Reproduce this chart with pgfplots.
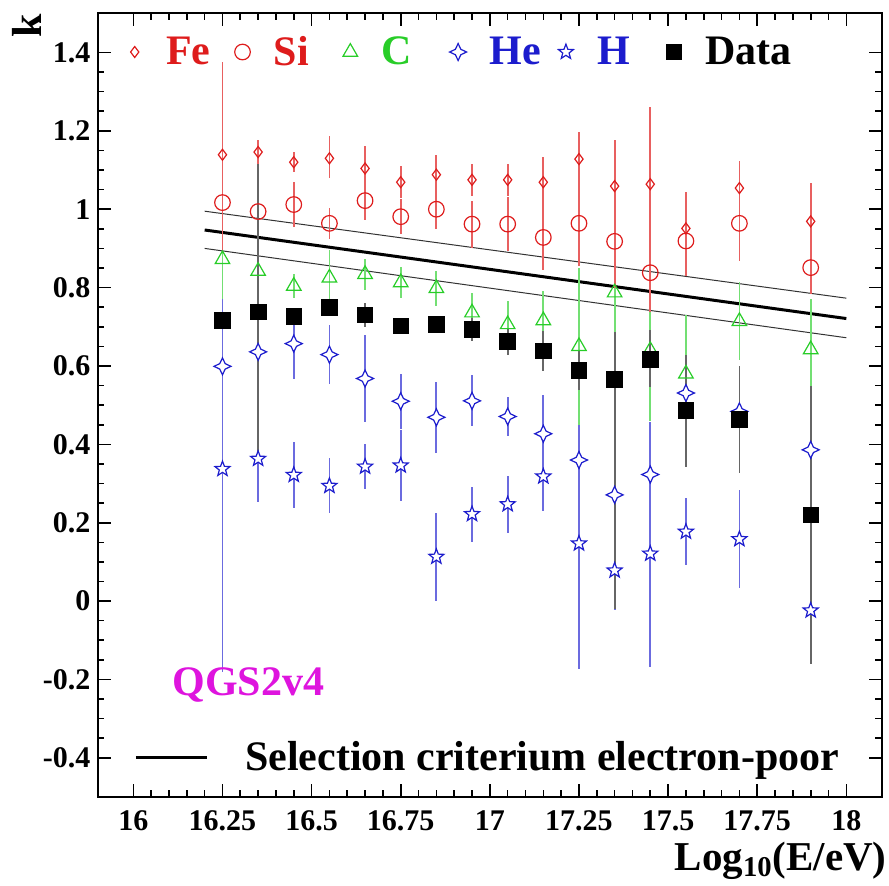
\documentclass[border=0pt]{standalone}
\usepackage{fontspec}
\setmainfont{Liberation Serif}
\usepackage{pgfplots}
\usepackage{pgfplotstable}
\pgfplotsset{compat=1.18}

\definecolor{rred}{RGB}{222,28,28}
\definecolor{rgreen}{RGB}{40,205,40}
\definecolor{rblue}{RGB}{28,28,205}
\definecolor{rmag}{RGB}{222,20,222}

% open 4-point star (He) and open 5-point star (H)
\pgfdeclareplotmark{fourstar}{%
  \pgfpathmoveto{\pgfqpoint{0pt}{\pgfplotmarksize}}%
  \pgfpathlineto{\pgfqpoint{0.32\pgfplotmarksize}{0.32\pgfplotmarksize}}%
  \pgfpathlineto{\pgfqpoint{\pgfplotmarksize}{0pt}}%
  \pgfpathlineto{\pgfqpoint{0.32\pgfplotmarksize}{-0.32\pgfplotmarksize}}%
  \pgfpathlineto{\pgfqpoint{0pt}{-\pgfplotmarksize}}%
  \pgfpathlineto{\pgfqpoint{-0.32\pgfplotmarksize}{-0.32\pgfplotmarksize}}%
  \pgfpathlineto{\pgfqpoint{-\pgfplotmarksize}{0pt}}%
  \pgfpathlineto{\pgfqpoint{-0.32\pgfplotmarksize}{0.32\pgfplotmarksize}}%
  \pgfpathclose
  \pgfusepathqfillstroke}
\pgfdeclareplotmark{ostar}{%
  \pgfpathmoveto{\pgfpointpolar{90}{\pgfplotmarksize}}%
  \pgfpathlineto{\pgfpointpolar{126}{0.42\pgfplotmarksize}}%
  \pgfpathlineto{\pgfpointpolar{162}{\pgfplotmarksize}}%
  \pgfpathlineto{\pgfpointpolar{198}{0.42\pgfplotmarksize}}%
  \pgfpathlineto{\pgfpointpolar{234}{\pgfplotmarksize}}%
  \pgfpathlineto{\pgfpointpolar{270}{0.42\pgfplotmarksize}}%
  \pgfpathlineto{\pgfpointpolar{306}{\pgfplotmarksize}}%
  \pgfpathlineto{\pgfpointpolar{342}{0.42\pgfplotmarksize}}%
  \pgfpathlineto{\pgfpointpolar{18}{\pgfplotmarksize}}%
  \pgfpathlineto{\pgfpointpolar{54}{0.42\pgfplotmarksize}}%
  \pgfpathclose
  \pgfusepathqfillstroke}

\pgfplotstableread{
x y ep em
16.25 1.139 0.237 0.245
16.35 1.146 0.030 0.030
16.45 1.120 0.025 0.025
16.55 1.130 0.058 0.050
16.65 1.104 0.057 0.055
16.75 1.069 0.041 0.040
16.85 1.088 0.051 0.050
16.95 1.075 0.041 0.040
17.05 1.075 0.041 0.040
17.15 1.069 0.064 0.065
17.25 1.128 0.070 0.070
17.35 1.059 0.118 0.120
17.45 1.064 0.198 0.200
17.55 0.951 0.092 0.090
17.70 1.054 0.068 0.070
17.90 0.969 0.098 0.100
}\fe
\pgfplotstableread{
x y ep em
16.25 1.017 0.060 0.060
16.35 0.994 0.030 0.030
16.45 1.012 0.057 0.057
16.55 0.964 0.040 0.040
16.65 1.022 0.050 0.050
16.75 0.981 0.045 0.045
16.85 1.000 0.050 0.050
16.95 0.962 0.060 0.060
17.05 0.962 0.068 0.068
17.15 0.928 0.083 0.083
17.25 0.964 0.110 0.110
17.35 0.918 0.120 0.120
17.45 0.838 0.100 0.100
17.55 0.919 0.090 0.090
17.70 0.964 0.096 0.096
17.90 0.851 0.068 0.068
}\si
\pgfplotstableread{
x y ep em
16.25 0.872 0.100 0.100
16.35 0.842 0.030 0.030
16.45 0.804 0.030 0.030
16.55 0.825 0.070 0.070
16.65 0.834 0.040 0.040
16.75 0.813 0.040 0.040
16.85 0.798 0.045 0.045
16.95 0.736 0.050 0.050
17.05 0.706 0.060 0.060
17.15 0.716 0.075 0.075
17.25 0.650 0.200 0.200
17.35 0.787 0.120 0.120
17.45 0.640 0.180 0.180
17.55 0.580 0.150 0.150
17.70 0.714 0.100 0.100
17.90 0.642 0.130 0.130
}\carbon
\pgfplotstableread{
x y ep em
16.25 0.599 0.180 0.780
16.35 0.636 0.050 0.050
16.45 0.657 0.050 0.090
16.55 0.629 0.075 0.075
16.65 0.568 0.110 0.110
16.75 0.510 0.070 0.070
16.85 0.469 0.090 0.090
16.95 0.511 0.065 0.065
17.05 0.471 0.050 0.050
17.15 0.427 0.100 0.100
17.25 0.360 0.090 0.090
17.35 0.271 0.100 0.100
17.45 0.323 0.135 0.135
17.55 0.531 0.050 0.050
17.70 0.484 0.040 0.040
17.90 0.386 0.100 0.100
}\he
\pgfplotstableread{
x y ep em
16.25 0.337 0.050 0.050
16.35 0.363 0.110 0.110
16.45 0.322 0.085 0.085
16.55 0.294 0.070 0.070
16.65 0.343 0.058 0.058
16.75 0.346 0.090 0.090
16.85 0.113 0.113 0.113
16.95 0.222 0.070 0.070
17.05 0.247 0.073 0.073
17.15 0.318 0.087 0.087
17.25 0.147 0.320 0.320
17.35 0.078 0.100 0.100
17.45 0.121 0.290 0.290
17.55 0.177 0.086 0.086
17.70 0.158 0.125 0.125
17.90 -0.024 0.135 0.135
}\hyd
\pgfplotstableread{
x y ep em
16.25 0.716 0.000 0.000
16.35 0.738 0.377 0.377
16.45 0.727 0.020 0.020
16.55 0.749 0.020 0.020
16.65 0.730 0.030 0.030
16.75 0.702 0.000 0.000
16.85 0.706 0.000 0.000
16.95 0.693 0.030 0.030
17.05 0.663 0.035 0.035
17.15 0.638 0.050 0.050
17.25 0.588 0.050 0.050
17.35 0.566 0.120 0.585
17.45 0.617 0.075 0.070
17.55 0.486 0.143 0.143
17.70 0.463 0.137 0.137
17.90 0.220 0.330 0.380
}\meas

\pgfplotsset{
  frame/.style={scale only axis, width=392.15pt, height=391.85pt,
    xmin=15.9, xmax=18.1, ymin=-0.5, ymax=1.5},
  errs/.style={error bars/.cd, y dir=both, y explicit, error mark=none,
    error bar style={line width=0.9pt, #1}},
}
\newcommand{\bigfont}{\fontsize{21}{25}\selectfont\bfseries}

\begin{document}
\begin{tikzpicture}
% selection criterium lines, with their own legend
\begin{axis}[frame, hide axis,
  legend style={at={(axis description cs:0.0464,0.051)}, anchor=west,
    draw=none, fill=none, inner sep=0pt, column sep=0pt,
    nodes={inner sep=0pt}, font=\bigfont},
  legend image code/.code={\draw[#1] (0pt,0pt) -- (35.5pt,0pt);}]
\addplot[black, line width=1.5pt] coordinates {(16.2,0.947) (18.0,0.721)};
\addlegendentry{\hspace*{18.3pt}Selection criterium electron-poor}
\addplot[black!80, line width=0.5pt, forget plot] coordinates {(16.2,0.995) (18.0,0.773)};
\addplot[black!80, line width=0.5pt, forget plot] coordinates {(16.2,0.900) (18.0,0.672)};
\end{axis}

\begin{axis}[frame,
  axis line style={line width=1pt},
  tick align=inside, tick pos=both,
  xtick={16,16.25,16.5,16.75,17,17.25,17.5,17.75,18},
  xticklabels={16,16.25,16.5,16.75,17,17.25,17.5,17.75,18},
  ytick={-0.4,-0.2,0,0.2,0.4,0.6,0.8,1,1.2,1.4},
  yticklabels={-0.4,-0.2,0,0.2,0.4,0.6,0.8,1,1.2,1.4},
  minor x tick num=4, minor y tick num=3,
  major tick length=6.5pt, minor tick length=3.3pt,
  tick style={line width=0.8pt, black},
  tick label style={font=\fontsize{15}{18}\selectfont\bfseries, inner sep=0pt},
  xticklabel style={yshift=-6.5pt},
  yticklabel style={xshift=-3.5pt},
  xlabel={Log\textsubscript{10}(E/eV)},
  xlabel style={at={(rel axis cs:1,0)}, anchor=base east, yshift=-36.5pt,
    xshift=2.5pt, inner sep=0pt, font=\fontsize{20.5}{25}\selectfont\bfseries},
  ylabel={k},
  ylabel style={at={(rel axis cs:-0.0714,1)}, anchor=south east,
    inner sep=0pt, font=\bigfont},
  legend style={at={(axis description cs:0.0245,0.9506)}, anchor=west,
    draw=none, fill=none, inner sep=0pt, column sep=0pt,
    nodes={inner sep=0pt}, font=\bigfont},
  legend columns=6,
  legend image code/.code={\path (0pt,0pt) (17pt,0pt);
    \draw[#1] plot coordinates {(8.5pt,0pt)};},
]
\addlegendimage{only marks, mark=diamond, mark size=2.75pt, rred, mark options={fill=white, line width=0.6pt}}
\addlegendentry{\makebox[36.5pt][l]{\hspace*{7pt}\textcolor{rred}{Fe}}}
\addlegendimage{only marks, mark=o, mark size=3.9pt, rred, mark options={fill=white, line width=0.6pt}}
\addlegendentry{\makebox[36.5pt][l]{\hspace*{7pt}\textcolor{rred}{Si}}}
\addlegendimage{only marks, mark=triangle, mark size=4.2pt, rgreen, mark options={fill=white, line width=0.6pt}}
\addlegendentry{\makebox[36.5pt][l]{\hspace*{7pt}\textcolor{rgreen}{C}}}
\addlegendimage{only marks, mark=fourstar, mark size=4.25pt, rblue, mark options={fill=white, line width=0.6pt}}
\addlegendentry{\makebox[36.5pt][l]{\hspace*{7pt}\textcolor{rblue}{He}}}
\addlegendimage{only marks, mark=ostar, mark size=3.95pt, rblue, mark options={fill=white, line width=0.6pt}}
\addlegendentry{\makebox[36.5pt][l]{\hspace*{7pt}\textcolor{rblue}{H}}}
\addlegendimage{only marks, mark=square*, mark size=3.9pt, black}
\addlegendentry{\hspace*{7pt}Data}

\addplot[forget plot, only marks, mark=ostar, mark size=3.95pt, rblue,
  mark options={fill=white, line width=0.6pt}, errs=rblue!65]
  table[x=x, y=y, y error plus=ep, y error minus=em]{\hyd};
\addplot[forget plot, only marks, mark=fourstar, mark size=4.25pt, rblue,
  mark options={fill=white, line width=0.6pt}, errs=rblue!65]
  table[x=x, y=y, y error plus=ep, y error minus=em]{\he};
\addplot[forget plot, only marks, mark=triangle, mark size=4.2pt, rgreen,
  mark options={fill=white, line width=0.6pt}, errs=rgreen!65]
  table[x=x, y=y, y error plus=ep, y error minus=em]{\carbon};
\addplot[forget plot, only marks, mark=o, mark size=3.9pt, rred,
  mark options={fill=white, line width=0.6pt}, errs=rred!70]
  table[x=x, y=y, y error plus=ep, y error minus=em]{\si};
\addplot[forget plot, only marks, mark=diamond, mark size=2.75pt, rred,
  mark options={fill=white, line width=0.6pt}, errs=rred!70]
  table[x=x, y=y, y error plus=ep, y error minus=em]{\fe};
\addplot[forget plot, only marks, mark=square*, mark size=3.9pt, black,
  errs=black!60]
  table[x=x, y=y, y error plus=ep, y error minus=em]{\meas};

\node[anchor=base west, inner sep=0pt, text=rmag, font=\bigfont]
  at (rel axis cs:0.0947,0.130) {QGS2v4};
\coordinate (ll) at (rel axis cs:0,0);
\coordinate (ur) at (rel axis cs:1,1);
\end{axis}
\pgfresetboundingbox
\path[use as bounding box] ([shift={(-48.85pt,-44pt)}]ll) rectangle ([shift={(3.5pt,6.65pt)}]ur);
\end{tikzpicture}
\end{document}
